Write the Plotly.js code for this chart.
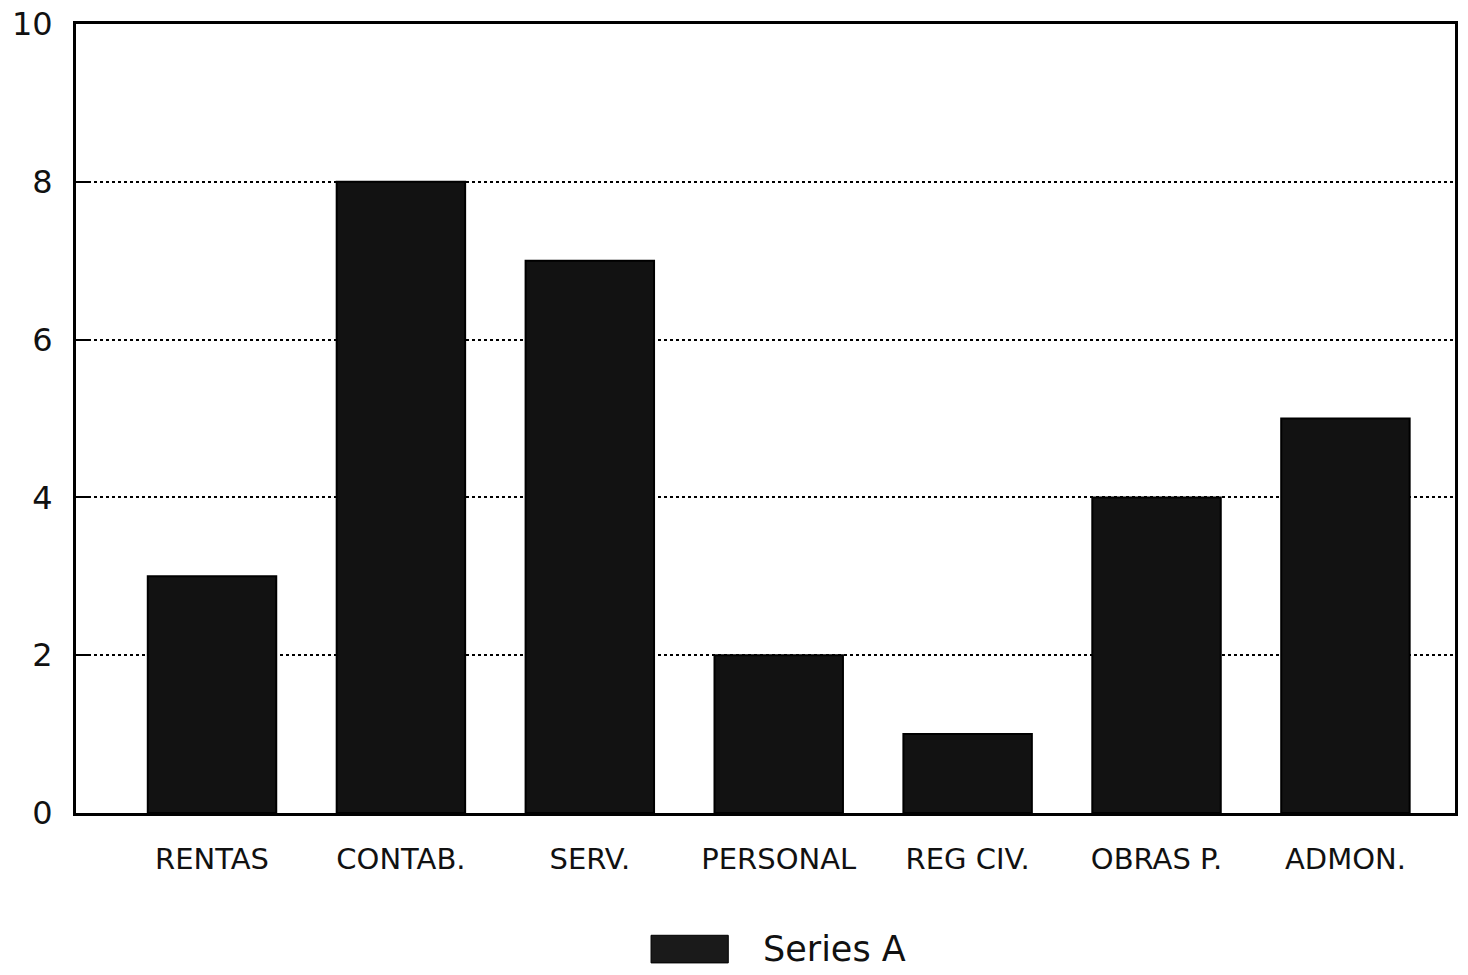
<!DOCTYPE html>
<html>
<head>
<meta charset="utf-8">
<script src="https://cdn.plot.ly/plotly-3.0.1.min.js"></script>
<style>html,body{margin:0;padding:0;background:#fff;}#chart{width:1468px;height:975px;}</style>
</head>
<body>
<div id="chart"></div>
<script>
const categories = ["RENTAS", "CONTAB.", "SERV.", "PERSONAL", "REG CIV.", "OBRAS P.", "ADMON."];
const seriesA = [3, 8, 7, 2, 1, 4, 5];
const seriesName = "Series A";
const yTicks = [0, 2, 4, 6, 8, 10];

const font = "DejaVu Sans, Liberation Sans, sans-serif";

const trace = {
  type: "bar",
  name: seriesName,
  x: categories,
  y: seriesA,
  width: 0.68,
  showlegend: false,
  marker: {color: "#121212", line: {color: "#000", width: 2}}
};

const layout = {
  width: 1468, height: 975,
  paper_bgcolor: "#fff", plot_bgcolor: "#fff",
  margin: {l: 76, r: 13, t: 24, b: 162},
  showlegend: false,
  xaxis: {
    type: "category",
    range: [-0.72, 6.58],
    showline: true, linecolor: "#000", linewidth: 3, mirror: true,
    ticks: "", showgrid: false,
    tickfont: {family: font, size: 29, color: "#111"},
    ticklabelstandoff: 18
  },
  yaxis: {
    range: [0, 10],
    tickvals: yTicks,
    showline: true, linecolor: "#000", linewidth: 3, mirror: true,
    ticks: "inside", ticklen: 12, tickwidth: 2, tickcolor: "#000",
    showgrid: true, gridcolor: "#000", gridwidth: 2, griddash: "dot",
    zeroline: false,
    tickfont: {family: font, size: 32, color: "#111"},
    ticklabelstandoff: 14
  },
  shapes: [{
    type: "rect", xref: "paper", yref: "paper",
    x0: 0.417, x1: 0.473, y0: -0.155, y1: -0.19,
    fillcolor: "#1a1a1a", line: {color: "#000", width: 1}
  }],
  annotations: [{
    xref: "paper", yref: "paper", x: 0.497, y: -0.172,
    xanchor: "left", yanchor: "middle", showarrow: false,
    text: seriesName, font: {family: font, size: 35, color: "#111"}
  }],
  bargap: 0.32
};

Plotly.newPlot("chart", [trace], layout, {displayModeBar: false, staticPlot: true});
</script>
</body>
</html>
